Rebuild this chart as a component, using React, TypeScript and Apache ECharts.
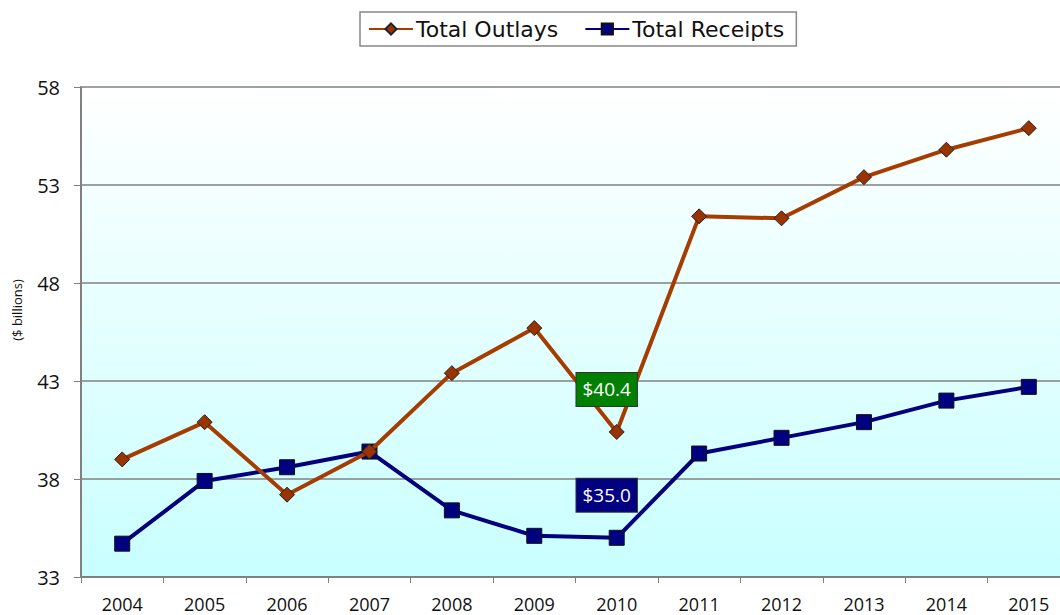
import React, { useEffect, useRef } from "react";
import * as echarts from "echarts";

const years = ["2004", "2005", "2006", "2007", "2008", "2009", "2010", "2011", "2012", "2013", "2014", "2015"];
const outlays = [39.0, 40.9, 37.2, 39.4, 43.4, 45.7, 40.4, 51.4, 51.3, 53.4, 54.8, 55.9];
const receipts = [34.7, 37.9, 38.6, 39.4, 36.4, 35.1, 35.0, 39.3, 40.1, 40.9, 42.0, 42.7];
const highlightIndex = 6;

export default function App() {
  const ref = useRef<HTMLDivElement>(null);
  useEffect(() => {
    document.body.style.margin = "0";
    document.body.style.overflow = "hidden";
    document.documentElement.style.overflow = "hidden";
    const chart = echarts.init(ref.current!, null, { renderer: "svg" });
    const font = "'Open Sans', 'Noto Sans', sans-serif";
    const mk = (vals: number[], bg: string) =>
      vals.map((v, i) =>
        i === highlightIndex
          ? {
              value: v,
              label: {
                show: true,
                position: "top",
                offset: [-10, -13],
                formatter: "$" + v.toFixed(1),
                color: "#ffffff",
                backgroundColor: bg,
                borderColor: "#333",
                borderWidth: 1,
                padding: [7, 6, 7, 6],
                fontSize: 19,
                fontFamily: font,
              },
            }
          : v
      );
    chart.setOption({
      animation: false,
      backgroundColor: "#ffffff",
      legend: {
        top: 12,
        left: 360,
        height: 36,
        padding: [6, 12, 6, 8],
        borderColor: "#888",
        borderWidth: 1.5,
        itemWidth: 44,
        itemHeight: 14,
        itemGap: 26,
        textStyle: { fontSize: 22, fontFamily: "'DejaVu Sans', sans-serif", color: "#111", padding: [0, 0, 0, -2] },
        data: ["Total Outlays", "Total Receipts"],
      },
      grid: {
        left: 81,
        top: 87,
        bottom: 38,
        right: 0,
        show: true,
        borderWidth: 0,
        backgroundColor: {
          type: "linear",
          x: 0,
          y: 0,
          x2: 0,
          y2: 1,
          colorStops: [
            { offset: 0, color: "#ffffff" },
            { offset: 1, color: "#c9ffff" },
          ],
        },
      },
      graphic: [
        {
          type: "text",
          x: 17,
          y: 310,
          rotation: Math.PI / 2,
          style: {
            text: "($ billions)",
            fontSize: 13,
            fontFamily: font,
            fill: "#111",
            align: "center",
            verticalAlign: "middle",
          },
        },
      ],
      xAxis: {
        type: "category",
        data: years,
        boundaryGap: true,
        axisLine: { lineStyle: { color: "#808080", width: 2 } },
        axisTick: { show: true, alignWithLabel: false, length: 6, lineStyle: { color: "#808080", width: 1 } },
        axisLabel: { fontSize: 18, fontFamily: font, color: "#111", margin: 18 },
      },
      yAxis: {
        type: "value",
        min: 33,
        max: 58,
        interval: 5,
        axisLine: { show: true, lineStyle: { color: "#808080", width: 2 } },
        axisTick: { show: true, length: 7, lineStyle: { color: "#808080" } },
        axisLabel: { fontSize: 20, fontFamily: font, color: "#111", margin: 21 },
        splitLine: { lineStyle: { color: "#808080", width: 1.5 } },
      },
      series: [
        {
          name: "Total Outlays",
          type: "line",
          data: mk(outlays, "#008000"),
          lineStyle: { color: "#a63c00", width: 4 },
          itemStyle: { color: "#993300", borderColor: "#222", borderWidth: 1 },
          symbol: "diamond",
          symbolSize: 15,
          z: 3,
        },
        {
          name: "Total Receipts",
          type: "line",
          data: mk(receipts, "#000080"),
          lineStyle: { color: "#00007f", width: 4 },
          itemStyle: { color: "#000080", borderColor: "#111", borderWidth: 1 },
          symbol: "rect",
          symbolSize: 15,
          z: 2,
        },
      ],
    });
    return () => chart.dispose();
  }, []);
  return <div ref={ref} style={{ width: 1070, height: 615, position: "absolute", left: 0, top: 0 }} />;
}
